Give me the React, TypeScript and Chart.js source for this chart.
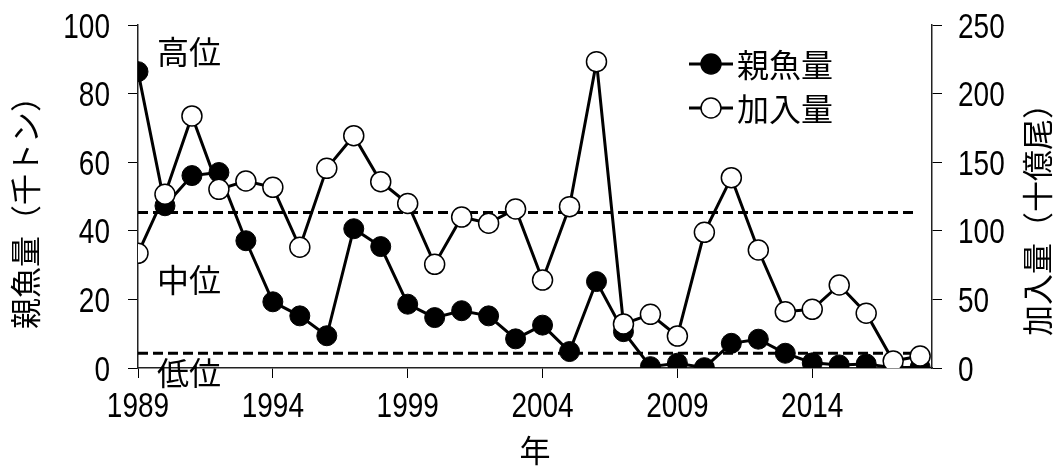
import React, { useEffect, useRef } from "react";
import { Chart, registerables } from "chart.js";

Chart.register(...registerables);

// 年
const years = [
  1989, 1990, 1991, 1992, 1993, 1994, 1995, 1996, 1997, 1998,
  1999, 2000, 2001, 2002, 2003, 2004, 2005, 2006, 2007, 2008,
  2009, 2010, 2011, 2012, 2013, 2014, 2015, 2016, 2017, 2018,
];

// 親魚量（千トン）
const spawningStock = [
  86.4, 47.3, 56.1, 57.0, 37.1, 19.3, 15.2, 9.4, 40.6, 35.4,
  18.6, 14.7, 16.7, 15.2, 8.5, 12.5, 4.8, 25.2, 10.6, 0.4,
  1.4, 0.1, 7.2, 8.4, 4.3, 1.5, 0.9, 1.2, 0.1, 0.2,
];

// 加入量（十億尾）
const recruitment = [
  83.6, 126.6, 183.7, 130.2, 136.3, 131.7, 88.0, 145.5, 169.3, 135.8,
  119.9, 75.6, 110.0, 105.5, 115.9, 64.1, 117.6, 223.3, 32.1, 39.1,
  23.3, 98.9, 138.7, 86.0, 41.0, 42.8, 60.5, 39.9, 5.1, 8.7,
];

// 高位／中位 と 中位／低位 の境界（親魚量, 千トン）
const upperBound = 45.3;
const lowerBound = 4.3;
const upperBoundSpan = [1989, 2017.75];
const lowerBoundSpan = [1989, 2018.3];

const xTicks = [1989, 1994, 1999, 2004, 2009, 2014];
const xRange = [1989, 2018.44];
const leftRange = [0, 100, 20];
const rightRange = [0, 250, 50];

const seriesNames = ["親魚量", "加入量"];
const levelNames = ["高位", "中位", "低位"];
const leftTitle = "親魚量（千トン）";
const rightTitle = "加入量（十億尾）";
const bottomTitle = "年";

const NUM_FONT = '"Liberation Sans", Arial, sans-serif';
const JP_FONT = '"Noto Sans CJK JP", "Noto Sans CJK SC", sans-serif';
const NUM_SIZE = 35;
const NUM_SQUEEZE = 0.8; // 数字は縦長に詰めて描く

// 数字の目盛ラベルを横方向に詰めて描く
function drawNumber(ctx: any, text: string, x: number, yCenter: number, align: string) {
  ctx.save();
  ctx.font = `${NUM_SIZE}px ${NUM_FONT}`;
  ctx.textBaseline = "alphabetic";
  ctx.textAlign = align;
  ctx.translate(x, yCenter + NUM_SIZE * 0.358);
  ctx.scale(NUM_SQUEEZE, 1);
  ctx.fillText(text, 0, 0);
  ctx.restore();
}

const tickLabels = {
  id: "tickLabels",
  afterDraw(chart: any) {
    const { ctx, scales } = chart;
    ctx.save();
    ctx.fillStyle = "#000";
    const xs = scales.x;
    for (const t of xs.ticks) {
      drawNumber(ctx, String(t.value), xs.getPixelForValue(t.value), 404, "center");
    }
    const yl = scales.y;
    for (const t of yl.ticks) {
      drawNumber(ctx, String(t.value), yl.right - 28, yl.getPixelForValue(t.value), "right");
    }
    const yr = scales.y1;
    for (const t of yr.ticks) {
      drawNumber(ctx, String(t.value), yr.left + 26, yr.getPixelForValue(t.value), "left");
    }
    ctx.restore();
  },
};

const decorations = {
  id: "decorations",
  afterDraw(chart: any) {
    const { ctx, chartArea } = chart;
    ctx.save();
    ctx.fillStyle = "#000";
    ctx.textBaseline = "middle";

    // 水準の表示
    ctx.font = `32px ${JP_FONT}`;
    ctx.textAlign = "left";
    const lx = chartArea.left + 19;
    ctx.fillText(levelNames[0], lx, 52);
    ctx.fillText(levelNames[1], lx, 280);
    ctx.fillText(levelNames[2], lx, 373);

    // 軸タイトル
    ctx.font = `31px ${JP_FONT}`;
    ctx.textAlign = "center";
    ctx.save();
    ctx.translate(25, 205);
    ctx.rotate(-Math.PI / 2);
    ctx.fillText(leftTitle, 0, 0);
    ctx.restore();
    ctx.save();
    ctx.translate(1037, 212);
    ctx.rotate(-Math.PI / 2);
    ctx.fillText(rightTitle, 0, 0);
    ctx.restore();
    ctx.fillText(bottomTitle, 535, 450);

    // 凡例
    const rows = [
      { label: seriesNames[0], y: 64, fill: "#000" },
      { label: seriesNames[1], y: 108, fill: "#fff" },
    ];
    ctx.font = `32px ${JP_FONT}`;
    ctx.textAlign = "left";
    for (const r of rows) {
      ctx.strokeStyle = "#000";
      ctx.lineWidth = 3;
      ctx.beginPath();
      ctx.moveTo(689, r.y);
      ctx.lineTo(733, r.y);
      ctx.stroke();
      ctx.beginPath();
      ctx.arc(711, r.y, 10, 0, Math.PI * 2);
      ctx.fillStyle = r.fill;
      ctx.fill();
      ctx.lineWidth = 1.5;
      ctx.stroke();
      ctx.fillStyle = "#000";
      ctx.fillText(r.label, 737, r.y + 1);
    }
    ctx.restore();
  },
};

const axisGrid = {
  drawOnChartArea: false,
  drawTicks: true,
  tickLength: 10,
  color: "#000",
  lineWidth: 1,
};
const axisBorder = { display: true, color: "#222", width: 1.5 };

export default function App() {
  const canvasRef = useRef<HTMLCanvasElement | null>(null);

  useEffect(() => {
    const canvas = canvasRef.current;
    if (!canvas) return;

    const dashed = {
      borderColor: "#000",
      borderWidth: 3,
      borderDash: [10, 5],
      pointRadius: 0,
      fill: false,
      order: 3,
      yAxisID: "y",
    };

    const chart = new Chart(canvas, {
      type: "line",
      data: {
        datasets: [
          {
            ...dashed,
            label: "upper",
            data: upperBoundSpan.map((x) => ({ x, y: upperBound })),
          },
          {
            ...dashed,
            label: "lower",
            data: lowerBoundSpan.map((x) => ({ x, y: lowerBound })),
          },
          {
            label: seriesNames[0],
            data: years.map((x, i) => ({ x, y: spawningStock[i] })),
            yAxisID: "y",
            borderColor: "#000",
            borderWidth: 3,
            pointRadius: 10,
            pointBackgroundColor: "#000",
            pointBorderColor: "#000",
            pointBorderWidth: 1,
            tension: 0,
            order: 2,
          },
          {
            label: seriesNames[1],
            data: years.map((x, i) => ({ x, y: recruitment[i] })),
            yAxisID: "y1",
            borderColor: "#000",
            borderWidth: 3,
            pointRadius: 10,
            pointBackgroundColor: "#fff",
            pointBorderColor: "#000",
            pointBorderWidth: 1.5,
            tension: 0,
            order: 1,
          },
        ],
      },
      options: {
        animation: false,
        responsive: false,
        events: [],
        layout: { padding: { top: 25, left: 0, right: 0, bottom: 0 } },
        plugins: { legend: { display: false }, tooltip: { enabled: false } },
        scales: {
          x: {
            type: "linear",
            position: "bottom",
            min: xRange[0],
            max: xRange[1],
            afterBuildTicks: (scale: any) => {
              scale.ticks = xTicks.map((v) => ({ value: v }));
            },
            afterFit: (scale: any) => {
              scale.height = 99;
            },
            grid: axisGrid,
            border: axisBorder,
            ticks: { display: false },
          },
          y: {
            position: "left",
            min: leftRange[0],
            max: leftRange[1],
            afterFit: (scale: any) => {
              scale.width = 138;
            },
            grid: axisGrid,
            border: axisBorder,
            ticks: { display: false, stepSize: leftRange[2] },
          },
          y1: {
            position: "right",
            min: rightRange[0],
            max: rightRange[1],
            afterFit: (scale: any) => {
              scale.width = 128;
            },
            grid: axisGrid,
            border: axisBorder,
            ticks: { display: false, stepSize: rightRange[2] },
          },
        },
      },
      plugins: [decorations, tickLabels],
    } as any);

    return () => chart.destroy();
  }, []);

  return (
    <div
      style={{
        position: "fixed",
        left: 0,
        top: 0,
        width: 1060,
        height: 467,
        background: "#fff",
      }}
    >
      <canvas ref={canvasRef} width={1060} height={467} />
    </div>
  );
}
